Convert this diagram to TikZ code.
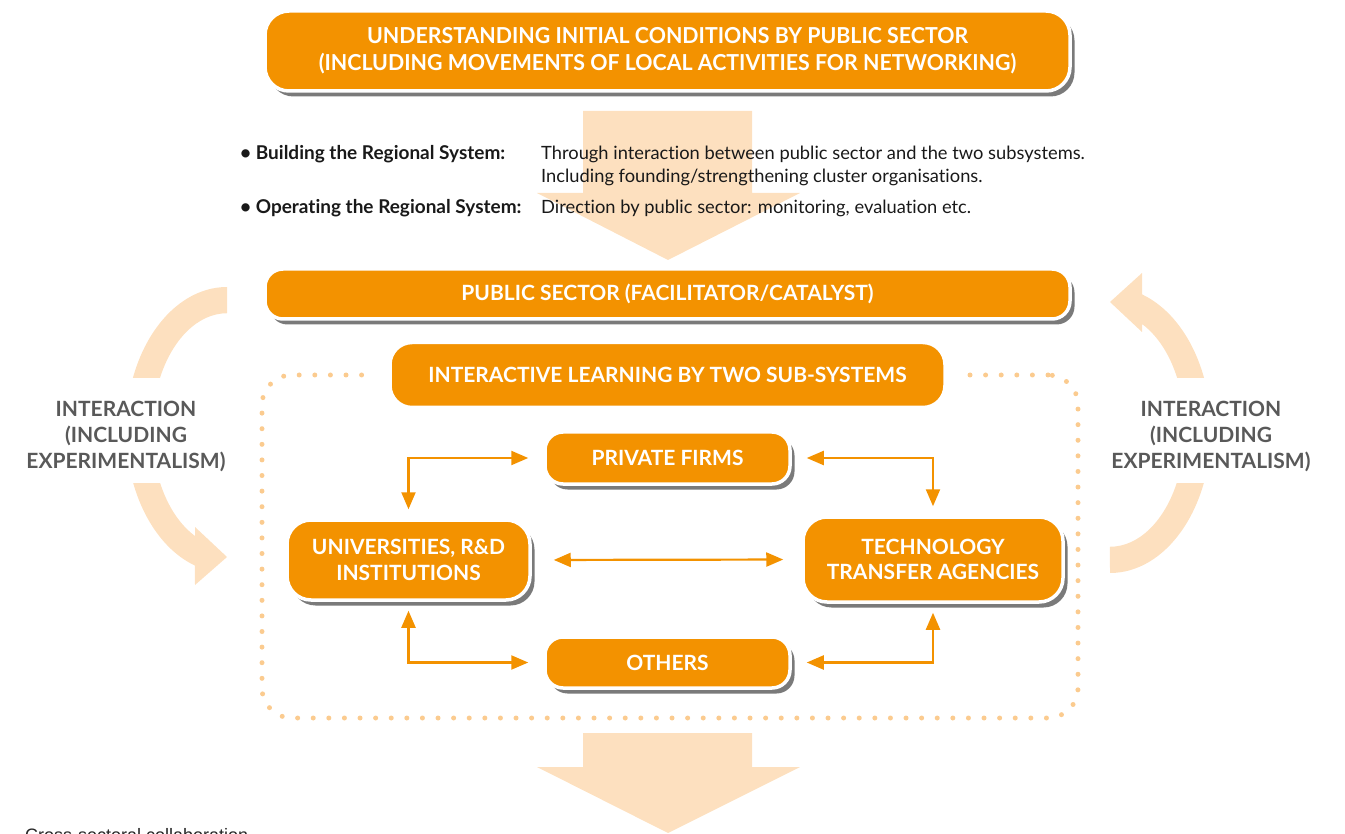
\documentclass[tikz,border=0pt]{standalone}
\usepackage{fontspec}
\setmainfont{Lato}[Ligatures=NoCommon]
\newfontfamily\narrowfont[FakeStretch=0.97]{Lato}
\newfontfamily\plainsans{Liberation Sans}
\usetikzlibrary{positioning, arrows.meta, shadows}

\definecolor{boxorange}{HTML}{F39200}
\definecolor{paleorange}{HTML}{FDE0BF}
\definecolor{dotorange}{HTML}{FBCB8F}
\definecolor{shadowgrey}{HTML}{7A7A7A}
\definecolor{labelgrey}{HTML}{595959}

\tikzset{
  box/.style={fill=boxorange, draw=white, line width=3.5pt, rounded corners=20pt,
    text=white, align=center, inner sep=0pt,
    font=\bfseries\fontsize{21}{25.5}\selectfont,
    drop shadow={shadow xshift=4.5pt, shadow yshift=-5.5pt, fill=shadowgrey, opacity=1}},
  gap/.style={preaction={draw=white, line width=36pt}},
  link/.style={draw=boxorange, line width=2.2pt,
    {Triangle[length=17pt,width=14pt]}-{Triangle[length=17pt,width=14pt]}},
  sidelabel/.style={text=labelgrey, align=center, inner sep=0pt,
    font=\bfseries\fontsize{21}{26}\selectfont},
  dotframe/.style={draw=dotorange, line width=5pt, line cap=round,
    dash pattern=on 0pt off 15.6pt, rounded corners=30pt},
  listtext/.style={anchor=base west, inner sep=0pt, align=left, text=black!90,
    font=\fontsize{18.3}{23}\selectfont},
  listhead/.style={listtext, font=\bfseries\fontsize{19}{23}\selectfont}
}

\begin{document}
\begin{tikzpicture}[x=1pt,y=-1pt]
\useasboundingbox (0,0) rectangle (1345,834);

% wide arrows down the middle
\fill[paleorange] (583,111) -- (752,111) -- (752,193) -- (800,193) -- (668,260)
  -- (537,193) -- (583,193) -- cycle;
\fill[paleorange] (583,733) -- (752,733) -- (752,767) -- (800,767) -- (668,833)
  -- (537,767) -- (583,767) -- cycle;

% curved arrows on both sides, left open behind the labels
\begin{scope}
  \clip (0,0) rectangle (1345,378) (0,483) rectangle (1345,834);
  \fill[paleorange] (227,287) arc[start angle=90, end angle=251.5, x radius=101pt, y radius=143pt]
    -- (195,585) -- (227,557) -- (195,527) -- (195,536)
    arc[start angle=244.7, end angle=90, x radius=75pt, y radius=117pt] -- cycle;
  \fill[paleorange] (1110,573) arc[start angle=270, end angle=431.5, x radius=101pt, y radius=143pt]
    -- (1142,273) -- (1110,302) -- (1142,332) -- (1142,324)
    arc[start angle=424.7, end angle=270, x radius=75pt, y radius=117pt] -- cycle;
\end{scope}

\node[sidelabel] (leftlabel) at (126,436) {INTERACTION\\(INCLUDING\\EXPERIMENTALISM)};
\node[sidelabel] (rightlabel) at (1211,436) {INTERACTION\\(INCLUDING\\EXPERIMENTALISM)};

% sub-systems
\node[dotframe, minimum width=816pt, minimum height=343pt] (subsys) at (670,546.5) {};

\node[box, minimum width=805pt, minimum height=80pt, rounded corners=24pt,
  font=\narrowfont\bfseries\fontsize{22}{27}\selectfont] (initial) at (667.5,51)
  {UNDERSTANDING INITIAL CONDITIONS BY PUBLIC SECTOR\\(INCLUDING MOVEMENTS OF LOCAL ACTIVITIES FOR NETWORKING)};

\node[listhead] (build) at (240,160) {\textbullet\ Building the Regional System:};
\node[listtext] (buildtxt) at (541,183) {Through interaction between public sector and the two subsystems.\\
  Including founding/strengthening cluster organisations.};
\node[listhead] (operate) at (240,214) {\textbullet\ Operating the Regional System:};
\node[listtext] (operatetxt) at (541,214) {Direction by public sector: monitoring, evaluation etc.};

\node[box, gap, minimum width=555pt, minimum height=65pt, rounded corners=22pt] (learning) at (667.5,375)
  {INTERACTIVE LEARNING BY TWO SUB-SYSTEMS};
\node[box, minimum width=805pt, minimum height=50pt, rounded corners=18pt] (public) at (667.5,294)
  {PUBLIC SECTOR (FACILITATOR/CATALYST)};

\node[box, minimum width=245pt, minimum height=52pt, rounded corners=18pt] (firms) at (667.5,458) {PRIVATE FIRMS};
\node[box, minimum width=245pt, minimum height=51pt, rounded corners=18pt] (others) at (667.5,662.5) {OTHERS};
\node[box, minimum width=243pt, minimum height=80pt, rounded corners=24pt] (uni) at (408.5,560)
  {UNIVERSITIES, R\&D\\INSTITUTIONS};
\node[box, minimum width=260pt, minimum height=85pt, rounded corners=24pt] (tech) at (933,559.5)
  {TECHNOLOGY\\TRANSFER AGENCIES};

\draw[link, shorten <=9pt, shorten >=15pt] (uni.north) |- (firms.west);
\draw[link, shorten <=15pt, shorten >=9pt] (firms.east) -| (tech.north);
\draw[link, shorten <=9pt, shorten >=15pt] (uni.south) |- (others.west);
\draw[link, shorten <=15pt, shorten >=9pt] (others.east) -| (tech.south);
\draw[link, shorten <=22pt, shorten >=18pt] (uni.east) -- (tech.west);

\node[anchor=base west, inner sep=0pt, text=black!85, font=\plainsans\fontsize{18}{20}\selectfont]
  (cross) at (25,841) {Cross-sectoral collaboration};
\end{tikzpicture}
\end{document}
